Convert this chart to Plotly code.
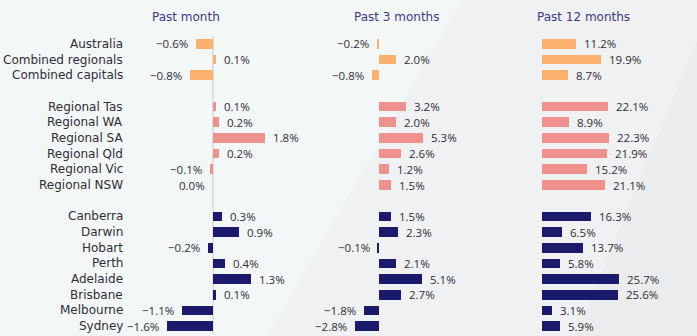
import plotly.graph_objects as go

categories = ["Australia", "Combined regionals", "Combined capitals", "",
              "Regional Tas", "Regional WA", "Regional SA", "Regional Qld", "Regional Vic", "Regional NSW", "",
              "Canberra", "Darwin", "Hobart", "Perth", "Adelaide", "Brisbane", "Melbourne", "Sydney"]
groups = ["agg", "agg", "agg", None,
          "reg", "reg", "reg", "reg", "reg", "reg", None,
          "cap", "cap", "cap", "cap", "cap", "cap", "cap", "cap"]
past_month = [-0.6, 0.1, -0.8, None, 0.1, 0.2, 1.8, 0.2, -0.1, -0.0, None,
              0.3, 0.9, -0.2, 0.4, 1.3, 0.1, -1.1, -1.6]
past_3_months = [-0.2, 2.0, -0.8, None, 3.2, 2.0, 5.3, 2.6, 1.2, 1.5, None,
                 1.5, 2.3, -0.1, 2.1, 5.1, 2.7, -1.8, -2.8]
past_12_months = [11.2, 19.9, 8.7, None, 22.1, 8.9, 22.3, 21.9, 15.2, 21.1, None,
                  16.3, 6.5, 13.7, 5.8, 25.7, 25.6, 3.1, 5.9]
titles = ["Past month", "Past 3 months", "Past 12 months"]

colors = {"agg": "#fbb16d", "reg": "#ef928d", "cap": "#1c1a6b"}
W, H = 697, 336
T, B = 36, 2
PH = H - T - B
LABEL_FONT = "DejaVu Sans"
VALUE_FONT = "Open Sans"


def px_x(p):
    return p / W


def px_y(p):
    return (H - B - p) / PH


fig = go.Figure()
series = [past_month, past_3_months, past_12_months]
axes = ["x", "x2", "x3"]
dom_px = [(130, 330), (332, 525), (527, 697)]
zero_px = [213.3, 378.7, 542.3]
px_per = [28.7, 8.4, 2.97]
title_px = [186, 396, 583]

annotations = []
for i, (vals, ax) in enumerate(zip(series, axes)):
    ys, xs, cs = [], [], []
    for j, v in enumerate(vals):
        if v is None:
            continue
        ys.append(j)
        xs.append(v)
        cs.append(colors[groups[j]])
        neg = v <= 0
        label = f"{abs(v):.1f}%"
        if v < 0:
            label = "\u2212" + label
        annotations.append(dict(
            x=v, y=j, xref=ax, yref="y", text=label, borderpad=0,
            showarrow=False, xanchor="right" if neg else "left", yanchor="middle",
            xshift=-7 if neg else 7, font=dict(family=VALUE_FONT, size=11.5, color="#2e2e36")))
    fig.add_trace(go.Bar(x=xs, y=ys, orientation="h", marker=dict(color=cs, line=dict(width=0)),
                         width=0.62, xaxis=ax, yaxis="y", showlegend=False, hoverinfo="skip"))

layout_axes = {}
for i, ax in enumerate(axes):
    d0, d1 = dom_px[i]
    r0 = (d0 - zero_px[i]) / px_per[i]
    r1 = (d1 - zero_px[i]) / px_per[i]
    name = "xaxis" if i == 0 else f"xaxis{i+1}"
    layout_axes[name] = dict(domain=[d0 / W, d1 / W], range=[r0, r1], anchor="y",
                             showgrid=False, showticklabels=False, ticks="",
                             zeroline=(i == 0), zerolinecolor="#dde0e3", zerolinewidth=2,
                             showline=False, fixedrange=True)
    annotations.append(dict(x=px_x(title_px[i]), y=px_y(17), xref="paper", yref="paper",
                            text=titles[i], showarrow=False, xanchor="center", yanchor="middle",
                            font=dict(family=LABEL_FONT, size=12, color="#3b3a86")))

for j, c in enumerate(categories):
    if c:
        annotations.append(dict(x=px_x(124), y=j, xref="paper", yref="y", text=c, showarrow=False,
                                xanchor="right", yanchor="middle", borderpad=0,
                                font=dict(family=LABEL_FONT, size=12, color="#2e2e36")))


def poly(pts):
    return "M " + " L ".join(f"{px_x(x):.4f},{px_y(y):.4f}" for x, y in pts) + " Z"


shapes = [
    dict(type="path", xref="paper", yref="paper", layer="below", line=dict(width=0),
         fillcolor="#eff1f3", path=poly([(462, 0), (697, 0), (697, 336), (268, 336)])),
    dict(type="path", xref="paper", yref="paper", layer="below", line=dict(width=0),
         fillcolor="#eaeced", path=poly([(697, 40), (697, 336), (575, 336)])),
]

fig.update_layout(
    width=W, height=H, margin=dict(l=0, r=0, t=T, b=B),
    paper_bgcolor="#f4f7f8", plot_bgcolor="rgba(0,0,0,0)",
    yaxis=dict(range=[18.5, -0.5], showgrid=False, showticklabels=False, zeroline=False,
               ticks="", showline=False, fixedrange=True),
    annotations=annotations, shapes=shapes, bargap=0,
    **layout_axes,
)
fig.write_html("out.html")
